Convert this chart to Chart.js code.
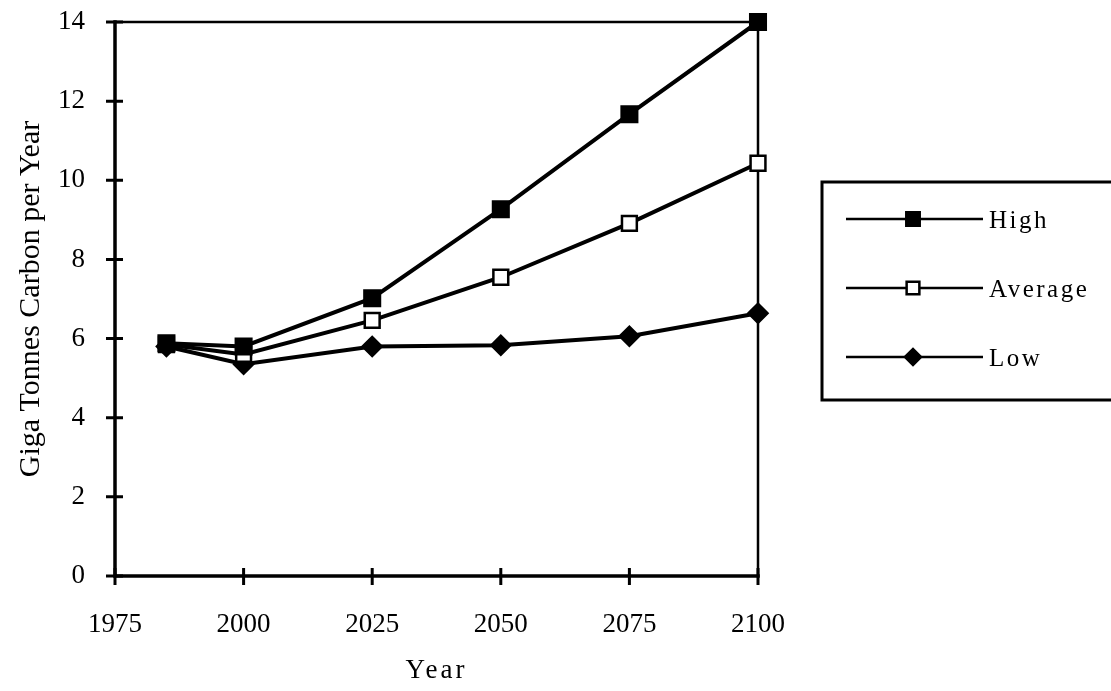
<!DOCTYPE html>
<html><head><meta charset="utf-8">
<script src="https://cdn.jsdelivr.net/npm/chart.js@4"></script>
<style>html,body{margin:0;padding:0;background:#fff}#wrap{width:1111px;height:691px;position:relative}</style>
</head><body><div id="wrap"><canvas id="c" width="1111" height="691"></canvas></div>
<script>
const years = [1985, 2000, 2025, 2050, 2075, 2100];
const seriesNames = ['High', 'Average', 'Low'];
const highValues = [5.88, 5.8, 7.02, 9.27, 11.67, 14.0];
const averageValues = [5.85, 5.6, 6.46, 7.55, 8.91, 10.43];
const lowValues = [5.8, 5.35, 5.8, 5.83, 6.06, 6.64];
const xTicks = [1975, 2000, 2025, 2050, 2075, 2100];
const yTicks = [0, 2, 4, 6, 8, 10, 12, 14];

const FONT = "'Liberation Serif', 'DejaVu Serif', serif";
const toPts = v => v.map((y, i) => ({x: years[i], y}));
const styles = [
  {pointStyle: 'rect', bg: '#000', r: 11},
  {pointStyle: 'rect', bg: '#fff', r: 10.5},
  {pointStyle: 'rectRot', bg: '#000', r: 9.5}
];
const all = [highValues, averageValues, lowValues];

const datasets = all.map((v, i) => ({
  label: seriesNames[i],
  data: toPts(v),
  borderColor: '#000',
  borderWidth: 4,
  backgroundColor: styles[i].bg,
  pointStyle: styles[i].pointStyle,
  pointRadius: styles[i].r,
  pointBorderWidth: 2.5,
  pointBorderColor: '#000',
  pointBackgroundColor: styles[i].bg,
  tension: 0,
  clip: false
}));

const frame = {
  id: 'frame',
  beforeDraw(chart) {
    const xs = chart.scales.x;
    if (xs && !xs._spacedTitle) {
      const orig = xs.drawTitle.bind(xs);
      xs.drawTitle = function () {
        const ctx = this.ctx;
        ctx.save();
        if (ctx.letterSpacing !== undefined) ctx.letterSpacing = '3px';
        orig();
        ctx.restore();
      };
      xs._spacedTitle = true;
    }
  },
  beforeDatasetsDraw(chart) {
    const {ctx, chartArea: a, scales} = chart;
    ctx.save();
    ctx.strokeStyle = '#000';
    ctx.lineCap = 'square';
    ctx.lineWidth = 2.5;
    ctx.beginPath();
    ctx.moveTo(a.left, a.top); ctx.lineTo(a.right, a.top); ctx.lineTo(a.right, a.bottom);
    ctx.stroke();
    ctx.lineWidth = 3.5;
    ctx.beginPath();
    ctx.moveTo(a.left, a.top); ctx.lineTo(a.left, a.bottom); ctx.lineTo(a.right, a.bottom);
    ctx.stroke();
    ctx.lineWidth = 3;
    ctx.lineCap = 'butt';
    ctx.beginPath();
    scales.x.ticks.forEach(t => {
      const px = scales.x.getPixelForValue(t.value);
      ctx.moveTo(px, a.bottom - 8); ctx.lineTo(px, a.bottom + 9);
    });
    scales.y.ticks.forEach(t => {
      const py = scales.y.getPixelForValue(t.value);
      ctx.moveTo(a.left - 9, py); ctx.lineTo(a.left + 8, py);
    });
    ctx.stroke();
    ctx.restore();
  },
  afterDraw(chart) {
    const {ctx} = chart;
    ctx.save();
    ctx.strokeStyle = '#000';
    ctx.lineWidth = 3;
    ctx.strokeRect(822, 182, 320, 218);
    chart.data.datasets.forEach((ds, i) => {
      const y = 219 + i * 69;
      ctx.lineWidth = 2.5;
      ctx.strokeStyle = '#000';
      ctx.beginPath(); ctx.moveTo(846, y); ctx.lineTo(983, y); ctx.stroke();
      const st = {pointStyle: ds.pointStyle, radius: ds.pointRadius - 1.5, borderWidth: 2.5};
      ctx.fillStyle = ds.pointBackgroundColor;
      ctx.lineWidth = 2.5;
      Chart.helpers.drawPoint(ctx, st, 913, y);
      ctx.fillStyle = '#000';
      ctx.font = "25px " + FONT;
      ctx.textBaseline = 'middle';
      ctx.textAlign = 'left';
      if (ctx.letterSpacing !== undefined) ctx.letterSpacing = '2.5px';
      ctx.fillText(ds.label, 989, y + 2);
      if (ctx.letterSpacing !== undefined) ctx.letterSpacing = '0px';
    });
    ctx.restore();
  }
};

new Chart(document.getElementById('c'), {
  type: 'line',
  data: {datasets},
  plugins: [frame],
  options: {
    responsive: false,
    animation: false,
    layout: {padding: {top: 22, right: 1111 - 758, bottom: 0, left: 0}},
    plugins: {legend: {display: false}, tooltip: {enabled: false}},
    scales: {
      x: {
        type: 'linear', min: 1975, max: 2100,
        afterBuildTicks: s => { s.ticks = xTicks.map(v => ({value: v})); },
        afterFit: s => { s.height = 691 - 576; s.paddingLeft = 0; s.paddingRight = 0; },
        grid: {display: false, drawTicks: false},
        border: {display: false},
        ticks: {color: '#000', font: {family: FONT, size: 27}, padding: 33, maxRotation: 0, callback: v => String(v)},
        title: {display: true, text: 'Year', color: '#000', font: {family: FONT, size: 27}, padding: {top: 0, bottom: 4}}
      },
      y: {
        min: 0, max: 14,
        afterBuildTicks: s => { s.ticks = yTicks.map(v => ({value: v})); },
        afterFit: s => { s.width = 115; s.paddingTop = 0; s.paddingBottom = 0; },
        grid: {display: false, drawTicks: false},
        border: {display: false},
        ticks: {color: '#000', font: {family: FONT, size: 27}, padding: 30},
        title: {display: true, text: 'Giga Tonnes Carbon per Year', color: '#000', font: {family: FONT, size: 30}, padding: {top: 13, bottom: 0}}
      }
    }
  }
});
</script></body></html>
